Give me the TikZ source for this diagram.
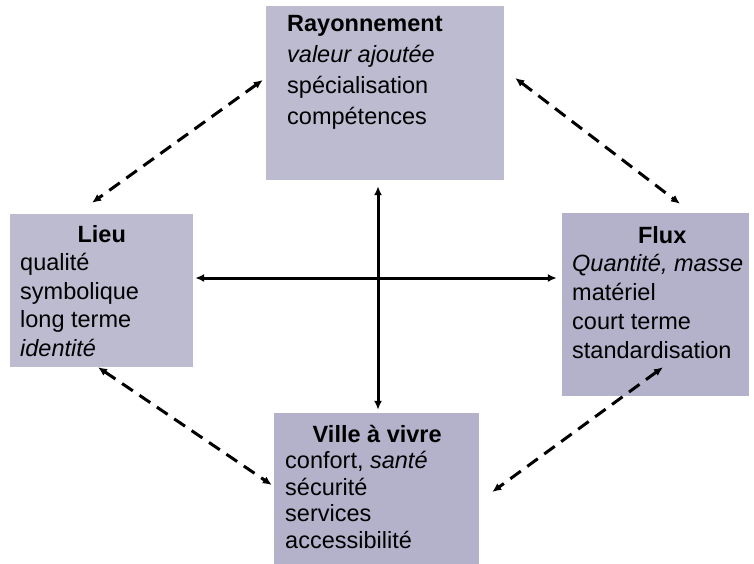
\documentclass[tikz,border=0pt]{standalone}
\usepackage{fontspec}
\setmainfont{Liberation Sans}
\usetikzlibrary{arrows.meta}
\definecolor{paleviolet}{RGB}{189,187,208}
\definecolor{deepviolet}{RGB}{180,178,203}
\begin{document}
\begin{tikzpicture}[x=1pt,y=-1pt,>={Latex[length=9pt,width=8pt]}]
\tikzset{
  pole/.style={fill=#1,draw=none,inner sep=0pt},
  words/.style={inner sep=0pt,anchor=base west,font=\fontsize{23.5}{28.5}\selectfont},
  axis/.style={<->,line width=3pt},
  link/.style={<->,line width=3pt,dash pattern=on 13pt off 8pt}
}
\useasboundingbox (0,0) rectangle (754,564);
% the four poles
\node[pole=paleviolet,minimum width=238pt,minimum height=174pt] (ray) at (385,93) {};
\node[pole=paleviolet,minimum width=183pt,minimum height=153pt] (lieu) at (101.5,290.5) {};
\node[pole=deepviolet,minimum width=187pt,minimum height=183pt] (flux) at (655.5,304.5) {};
\node[pole=deepviolet,minimum width=205pt,minimum height=151pt] (ville) at (376.5,488.5) {};
% their texts
\node[words,font=\fontsize{23.5}{31}\selectfont] (rayText) at (287,32)
  {\begin{tabular}[t]{@{}l@{}}\textbf{Rayonnement}\\ \textit{valeur ajoutée}\\ spécialisation\\ compétences\end{tabular}};
\node[words] (lieuText) at (20,242)
  {\begin{tabular}[t]{@{}p{163pt}@{}}\multicolumn{1}{@{}c@{}}{\textbf{Lieu}}\\ qualité\\ symbolique\\ long terme\\ \textit{identité}\end{tabular}};
\node[words,font=\fontsize{23.5}{28.75}\selectfont] (fluxText) at (572,243)
  {\begin{tabular}[t]{@{}p{180pt}@{}}\multicolumn{1}{@{}c@{}}{\textbf{Flux}}\\ \textit{Quantité, masse}\\ matériel\\ court terme\\ standardisation\end{tabular}};
\node[words,font=\fontsize{23.5}{26.5}\selectfont] (villeText) at (285,442)
  {\begin{tabular}[t]{@{}p{184pt}@{}}\multicolumn{1}{@{}c@{}}{\textbf{Ville à vivre}}\\ confort, \textit{santé}\\ sécurité\\ services\\ accessibilité\end{tabular}};
% the cross
\coordinate (hub) at (378,278);
\draw[axis,shorten <=6pt,shorten >=3pt] (ray.south -| hub) -- (ville.north -| hub);
\draw[axis,shorten <=2pt,shorten >=5pt] (lieu.east |- hub) -- (flux.west |- hub);
% dashed links between neighbours
\draw[link] ([shift={(-3,-13)}]ray.west) -- ([shift={(-9.5,-11)}]lieu.north);
\draw[link] ([shift={(11,-15)}]ray.east) -- ([shift={(24.5,-9)}]flux.north);
\draw[link] ([shift={(-3.5,0)}]lieu.south) -- ([shift={(-2,-3.5)}]ville.west);
\draw[link] ([shift={(7.5,-29)}]flux.south) -- ([shift={(13,3.5)}]ville.east);
\end{tikzpicture}
\end{document}
